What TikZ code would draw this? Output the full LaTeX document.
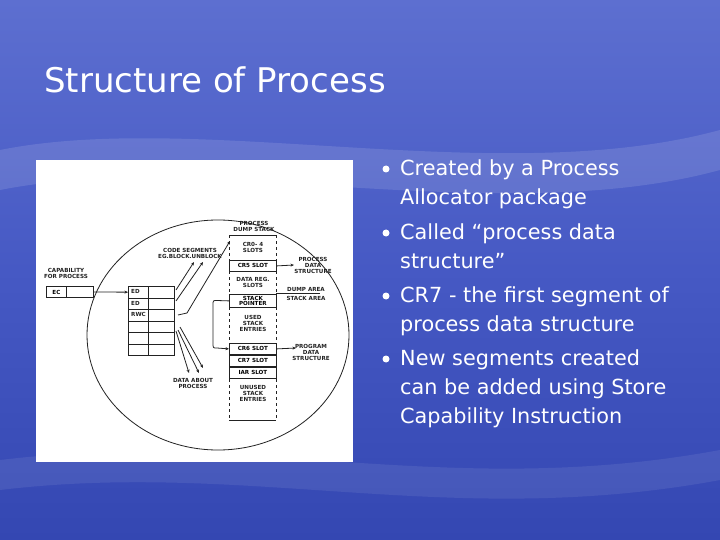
\documentclass[tikz,border=0pt]{standalone}
\usepackage{fontspec}
\setmainfont{DejaVu Sans}
\usetikzlibrary{arrows.meta}
\definecolor{bgtop}{HTML}{5D6FD0}
\definecolor{bgmid}{HTML}{4659C4}
\definecolor{bgbot}{HTML}{3447B2}
\definecolor{ink}{HTML}{222222}
\begin{document}
\begin{tikzpicture}[x=1pt,y=-1pt,
  lab/.style={font=\fontsize{5.6}{6}\selectfont\bfseries,align=center,inner sep=0,text=ink},
  bul/.style={font=\fontsize{20.8}{29}\selectfont,text=white,anchor=north west,align=left,inner sep=0},
  ln/.style={draw=ink,line width=0.8pt},
  arr/.style={ln,-{Stealth[length=3.5pt,width=3pt]}},
  cell/.style={draw=ink,line width=0.8pt,minimum width=#1,minimum height=11.5pt,inner sep=0,font=\fontsize{5.6}{6}\selectfont\bfseries}]
\useasboundingbox (0,0) rectangle (720,540);
\shade[top color=bgtop,bottom color=bgbot,middle color=bgmid] (0,0) rectangle (720,540);
\fill[white,opacity=0.12] (0,150) .. controls (200,110) and (500,190) .. (720,130) -- (720,170) .. controls (500,230) and (200,150) .. (0,190) -- cycle;
\fill[white,opacity=0.08] (0,460) .. controls (250,430) and (450,500) .. (720,450) -- (720,480) .. controls (450,530) and (250,460) .. (0,490) -- cycle;
\node[anchor=west,text=white,font=\fontsize{34}{36}\selectfont,inner sep=0] (title) at (44,80) {Structure of Process};
% bullets
\node[bul] (b1) at (400,159) {Created by a Process\\Allocator package};
\node[bul] (b2) at (400,223) {Called “process data\\structure”};
\node[bul] (b3) at (400,286) {CR7 - the first segment of\\process data structure};
\node[bul] (b4) at (400,349) {New segments created\\can be added using Store\\Capability Instruction};
\foreach \y in {169,233,296,359} \fill[white] (386,\y) circle (3.5);
% diagram
\fill[white] (36,160) rectangle (353,462);
\draw[ln] (218,335) ellipse [x radius=131, y radius=115];
\node[lab] (cap) at (66,273) {CAPABILITY\\FOR PROCESS};
\node[cell=20pt,anchor=west] (ec) at (46,292) {EC};
\node[cell=27pt,anchor=west] (ec2) at (66,292) {};
\foreach \i in {0,...,5} {
  \node[cell=20pt,anchor=north west] (l\i) at (128,{286+11.5*\i}) {};
  \node[cell=26pt,anchor=north west] (r\i) at (148,{286+11.5*\i}) {};
}
\node[lab,anchor=west] at (131,291.7) {ED};
\node[lab,anchor=west] at (131,303.2) {ED};
\node[lab,anchor=west] at (131,314.7) {RWC};
\draw[arr] (ec2.east) -- (l0.west);
% dump stack
\node[lab] (pds) at (254,226) {PROCESS\\DUMP STACK};
\draw[ln] (229,235) -- (276,235);
\draw[ln] (229,420) -- (276,420);
\draw[ln,dashed] (229,235) -- (229,420);
\draw[ln,dashed] (276,235) -- (276,420);
\node[lab] at (253,247) {CR0- 4\\SLOTS};
\node[cell=47pt,minimum height=11pt,anchor=north west] (cr5) at (229,260) {CR5 SLOT};
\node[lab] at (253,282) {DATA REG.\\SLOTS};
\node[cell=47pt,minimum height=13pt,anchor=north west,align=center,font=\fontsize{5.6}{5.6}\selectfont\bfseries] (sp) at (229,294) {STACK\\POINTER};
\node[lab] at (253,323) {USED\\STACK\\ENTRIES};
\node[cell=47pt,minimum height=11pt,anchor=north west] (cr6) at (229,343) {CR6 SLOT};
\node[cell=47pt,minimum height=11pt,anchor=north west] (cr7) at (229,355) {CR7 SLOT};
\node[cell=47pt,minimum height=11pt,anchor=north west] (iar) at (229,367) {IAR SLOT};
\node[lab] at (253,393) {UNUSED\\STACK\\ENTRIES};
% right labels
\node[lab] (pdsr) at (313,265) {PROCESS\\DATA\\STRUCTURE};
\coordinate (pdsa) at (294,265);
\draw[arr] (cr5.east) -- (pdsa);
\node[lab] (dump) at (306,289) {DUMP AREA};
\node[lab] (stk) at (306,298) {STACK AREA};
\coordinate (dl) at (320,293.5);
\draw[ln] (276,293.5) -- (dl);
\node[lab] (prg) at (311,352) {PROGRAM\\DATA\\STRUCTURE};
\coordinate (prga) at (296,348);
\draw[arr] (cr6.east) -- (prga);
% stack pointer loop
\draw[arr] (sp.west) -- (217,300.5) .. controls (213,300.5) .. (213,305) -- (213,343) .. controls (213,348) .. (217,348) -- (cr6.west);
% code segments
\node[lab] (code) at (190,253) {CODE SEGMENTS\\EG.BLOCK.UNBLOCK};
\coordinate (c1) at (194,262); \coordinate (c2) at (203,262);
\draw[arr] (176,290) -- (c1);
\draw[arr] (176,301) -- (c2);
\draw[arr] (178,315) -- (187,313) -- (230,241);
% data about process
\node[lab] (dap) at (193,383) {DATA ABOUT\\PROCESS};
\draw[arr] (176,331) -- (189,373);
\draw[arr] (178,330) -- (199,373);
\draw[arr] (180,327) -- (203,368);
\end{tikzpicture}
\end{document}
